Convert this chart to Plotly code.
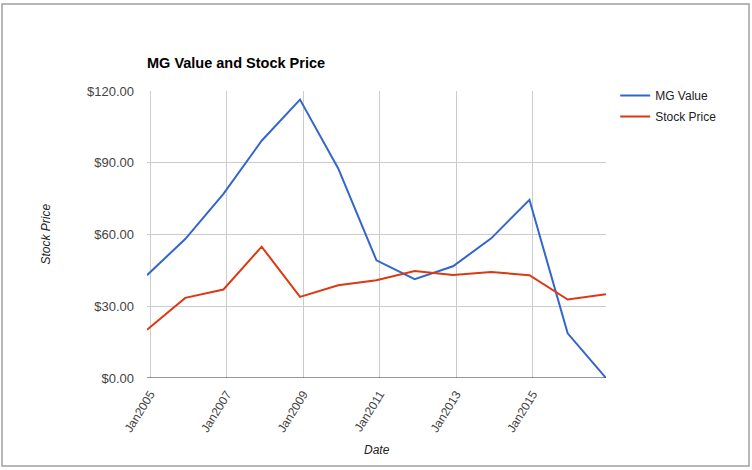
import plotly.graph_objects as go

dates = ["2004-12-01", "2005-12-01", "2006-12-01", "2007-12-01", "2008-12-01",
         "2009-12-01", "2010-12-01", "2011-12-01", "2012-12-01", "2013-12-01",
         "2014-12-01", "2015-12-01", "2016-12-01"]
mg_value = [43.0, 58.1, 77.0, 99.2, 116.4, 87.6, 49.2, 41.3, 46.7, 58.4, 74.5, 18.7, 0.0]
stock_price = [20.2, 33.5, 37.0, 54.9, 33.9, 38.8, 40.9, 44.7, 43.1, 44.3, 43.0, 32.8, 35.0]
tick_vals = ["2005-01-01", "2007-01-01", "2009-01-01", "2011-01-01", "2013-01-01", "2015-01-01"]
tick_text = ["Jan2005", "Jan2007", "Jan2009", "Jan2011", "Jan2013", "Jan2015"]
y_ticks = [0, 30, 60, 90, 120]
y_labels = ["$0.00", "$30.00", "$60.00", "$90.00", "$120.00"]

W, H = 752, 470
L, R, T, B = 147, 146, 91, 92

fig = go.Figure()
fig.add_trace(go.Scatter(x=dates, y=mg_value, mode="lines", name="MG Value",
                         legendgroup="a", line=dict(color="#3366cc", width=2)))
fig.add_trace(go.Scatter(x=dates, y=stock_price, mode="lines", name="Stock Price",
                         legendgroup="b", line=dict(color="#dc3912", width=2)))

fig.update_layout(
    width=W, height=H,
    margin=dict(l=L, r=R, t=T, b=B),
    paper_bgcolor="white", plot_bgcolor="white",
    font=dict(family="Liberation Sans, Arial, sans-serif", size=12, color="#444"),
    title=dict(text="<b>MG Value and Stock Price</b>", x=L / W, xanchor="left",
               y=1 - 63 / H, yanchor="middle", yref="container",
               font=dict(size=14.5, color="#000")),
    legend=dict(x=1.02, xanchor="left", y=1.035, yanchor="top",
                font=dict(size=12, color="#222"), bgcolor="rgba(0,0,0,0)",
                itemwidth=30, traceorder="grouped", tracegroupgap=2),
    xaxis=dict(type="date", range=[dates[0], dates[-1]], tickvals=tick_vals,
               ticktext=tick_text, tickangle=-58, showgrid=True, gridcolor="#cccccc",
               gridwidth=1, zeroline=False, showline=False, ticks="",
               ticklabelstandoff=6, tickfont=dict(size=12, color="#444")),
    yaxis=dict(range=[0, 120], tickvals=y_ticks, ticktext=y_labels, showgrid=True,
               gridcolor="#cccccc", gridwidth=1, zeroline=False, showline=False,
               ticks="", ticklabelstandoff=12, tickfont=dict(size=13, color="#444")),
    shapes=[
        dict(type="line", xref="paper", yref="y", x0=0, x1=1, y0=0, y1=0,
             line=dict(color="#333333", width=1)),
        dict(type="rect", xref="paper", yref="paper",
             x0=(2 - L) / (W - L - R), x1=(749 - L) / (W - L - R),
             y0=(H - B - 466) / (H - T - B), y1=(H - B - 4) / (H - T - B),
             line=dict(color="#a0a0a0", width=1.5), layer="below"),
    ],
    annotations=[
        dict(text="<i>Stock Price</i>", xref="paper", yref="paper",
             x=(45 - L) / (W - L - R), y=0.5, textangle=-90, showarrow=False,
             xanchor="center", yanchor="middle", font=dict(size=12, color="#222")),
        dict(text="<i>Date</i>", xref="paper", yref="paper",
             x=(377 - L) / (W - L - R), y=(H - B - 450) / (H - T - B),
             showarrow=False, xanchor="center", yanchor="middle",
             font=dict(size=12, color="#222")),
    ],
)

fig.write_html("out.html", config={"displayModeBar": False},
               post_script="document.body.style.margin='0';document.body.style.overflow='hidden';")
